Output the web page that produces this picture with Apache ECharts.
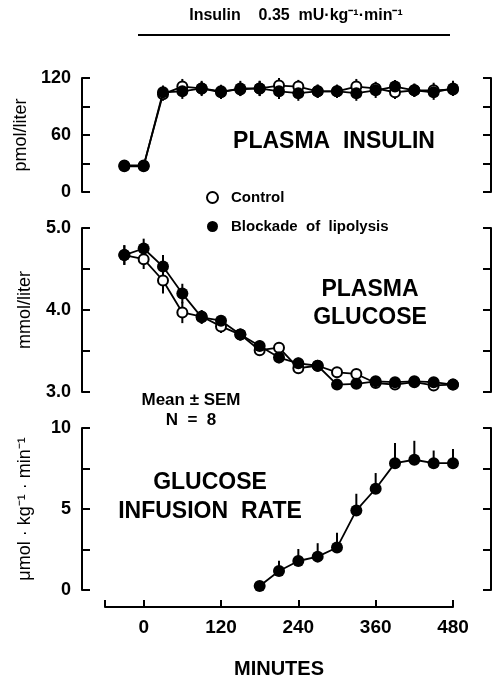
<!DOCTYPE html>
<html>
<head>
<meta charset="utf-8">
<script src="https://cdn.jsdelivr.net/npm/echarts@6.0.0/dist/echarts.min.js"></script>
<style>
  html, body { margin: 0; padding: 0; background: #fff; }
  #main { width: 493px; height: 680px; }
</style>
</head>
<body>
<div id="main"></div>
<script>
// sampling times (min)
const times = [-30, 0, 30, 60, 90, 120, 150, 180, 210, 240, 270, 300, 330, 360, 390, 420, 450, 480];

// plasma insulin, pmol/liter
const insulinControl = [28, 28, 103, 111, 109, 106, 108, 109, 112, 111, 106, 106, 111, 109, 105, 107, 107, 108];
const insulinBlockade = [27, 27, 105, 106, 109, 105, 109, 109, 106, 104, 106, 106, 104, 107, 111, 107, 105, 109];
const insulinSemControl = [5, 5, 7, 8, 7, 7, 7, 8, 8, 7, 7, 7, 8, 7, 7, 7, 8, 7];
const insulinSemBlockade = [5, 5, 7, 8, 8, 7, 8, 8, 8, 8, 7, 7, 8, 8, 7, 7, 8, 8];

// plasma glucose, mmol/liter
const glucoseControl = [4.67, 4.62, 4.36, 3.97, 3.92, 3.80, 3.70, 3.51, 3.54, 3.29, 3.32, 3.24, 3.22, 3.11, 3.09, 3.12, 3.08, 3.09];
const glucoseBlockade = [4.67, 4.75, 4.53, 4.20, 3.91, 3.87, 3.70, 3.56, 3.42, 3.35, 3.32, 3.09, 3.10, 3.13, 3.12, 3.13, 3.12, 3.09];
const glucoseSemControl = [0.12, 0.12, 0.16, 0.13, 0.08, 0.08, 0.07, 0.07, 0.07, 0.07, 0.07, 0.06, 0.06, 0.06, 0.06, 0.05, 0.05, 0.05];
const glucoseSemBlockade = [0.12, 0.12, 0.14, 0.12, 0.08, 0.07, 0.07, 0.07, 0.07, 0.07, 0.06, 0.05, 0.06, 0.06, 0.05, 0.05, 0.05, 0.05];

// glucose infusion rate, umol/kg/min (blockade only)
const girTimes = [180, 210, 240, 270, 300, 330, 360, 390, 420, 450, 480];
const girValues = [0.25, 1.17, 1.79, 2.06, 2.62, 4.91, 6.25, 7.83, 8.04, 7.83, 7.83];
const girSem = [0.3, 0.64, 0.74, 0.83, 0.92, 1.03, 0.97, 1.24, 1.17, 0.78, 0.87];

const xTicks = [-60, 0, 120, 240, 360, 480];
const xLabels = [0, 120, 240, 360, 480];

const FONT = '"Liberation Sans", Arial, Helvetica, sans-serif';

// layout
const panelLeft = 82, panelRight = 2, chartW = 493;
const axisLeft = 105, axisWidth = 348; // visible minutes axis: -60 .. 480
const pxPerMin = axisWidth / 540;
const panelW = chartW - panelLeft - panelRight;
const xMin = -60 - (axisLeft - panelLeft) / pxPerMin;
const xMax = xMin + panelW / pxPerMin;

const panels = [
  { top: 78, height: 114, min: 0, max: 120, step: 30, every: 60, fmt: v => String(v), name: 'pmol/liter' },
  { top: 228, height: 164, min: 3, max: 5, step: 0.5, every: 1, fmt: v => v.toFixed(1), name: 'mmol/liter' },
  { top: 428, height: 162, min: 0, max: 10, step: 2.5, every: 5, fmt: v => String(v), name: 'μmol · kg⁻¹ · min⁻¹' }
];

const grids = panels.map(p => ({ left: panelLeft, right: panelRight, top: p.top, height: p.height }));
grids.push({ left: axisLeft, width: axisWidth, top: 602, height: 11 });

const xAxes = panels.map((p, i) => ({
  type: 'value', gridIndex: i, min: xMin, max: xMax, show: false
}));
xAxes.push({
  type: 'value', gridIndex: 3, min: -60, max: 480, position: 'bottom',
  axisLine: { onZero: false, lineStyle: { color: '#000', width: 2 } },
  axisTick: { inside: true, length: 7, lineStyle: { color: '#000', width: 2 }, customValues: xTicks },
  axisLabel: { color: '#000', fontFamily: FONT, fontWeight: 'bold', fontSize: 19, margin: 11, customValues: xLabels },
  splitLine: { show: false },
  name: 'MINUTES', nameLocation: 'middle', nameGap: 52,
  nameTextStyle: { color: '#000', fontFamily: FONT, fontWeight: 'bold', fontSize: 20 }
});

const yAxes = [];
panels.forEach((p, i) => {
  const common = {
    type: 'value', gridIndex: i, min: p.min, max: p.max, interval: p.step,
    axisLine: { show: true, onZero: false, lineStyle: { color: '#000', width: 2 } },
    axisTick: { show: true, inside: true, length: 8, lineStyle: { color: '#000', width: 2 } },
    splitLine: { show: false }
  };
  yAxes.push(Object.assign({}, common, {
    position: 'left',
    axisLabel: {
      color: '#000', fontFamily: FONT, fontWeight: 'bold', fontSize: 18, margin: 11,
      formatter: v => (Math.abs(v / p.every - Math.round(v / p.every)) < 1e-6 ? p.fmt(v) : '')
    },
    name: p.name, nameLocation: 'middle', nameGap: 48, nameRotate: 90,
    nameTextStyle: { color: '#000', fontFamily: FONT, fontSize: 18 }
  }));
  yAxes.push(Object.assign({}, common, {
    position: 'right',
    axisLabel: { show: false }
  }));
});
// hidden companion axis for the minutes grid
yAxes.push({ type: 'value', gridIndex: 3, min: 0, max: 1, show: false });

function errorBars(idx, xs, vals, sems, upOnly) {
  return {
    type: 'custom', xAxisIndex: idx, yAxisIndex: idx * 2, z: 1, silent: true,
    data: xs.map((t, i) => [t, vals[i], sems[i]]),
    encode: { x: 0, y: 1 },
    renderItem: (params, api) => {
      const x = api.value(0), y = api.value(1), s = api.value(2);
      const a = api.coord([x, upOnly ? y : y - s]);
      const b = api.coord([x, y + s]);
      return {
        type: 'line',
        shape: { x1: a[0], y1: a[1], x2: b[0], y2: b[1] },
        style: { stroke: '#000', lineWidth: 2 }
      };
    }
  };
}

const lineStyle = { color: '#000', width: 1.8 };
const openStyle = { color: '#fff', borderColor: '#000', borderWidth: 2 };
const filledStyle = { color: '#000', borderColor: '#000', borderWidth: 0 };

function lineSeries(name, idx, xs, vals, open) {
  return {
    name, type: 'line', xAxisIndex: idx, yAxisIndex: idx * 2, z: open ? 3 : 4,
    data: xs.map((t, i) => [t, vals[i]]),
    symbol: 'circle', symbolSize: open ? 10 : 12,
    lineStyle, itemStyle: open ? openStyle : filledStyle,
    emphasis: { disabled: true }, animation: false
  };
}

const series = [
  errorBars(0, times, insulinControl, insulinSemControl),
  errorBars(0, times, insulinBlockade, insulinSemBlockade),
  lineSeries('Control', 0, times, insulinControl, true),
  lineSeries('Blockade of lipolysis', 0, times, insulinBlockade, false),
  errorBars(1, times, glucoseControl, glucoseSemControl),
  errorBars(1, times, glucoseBlockade, glucoseSemBlockade),
  lineSeries('Control', 1, times, glucoseControl, true),
  lineSeries('Blockade of lipolysis', 1, times, glucoseBlockade, false),
  errorBars(2, girTimes, girValues, girSem, true),
  lineSeries('Blockade of lipolysis', 2, girTimes, girValues, false)
];

function label(text, x, y, size) {
  return {
    type: 'text', x, y, silent: true,
    style: {
      text, fill: '#000', font: 'bold ' + size + 'px ' + FONT,
      textAlign: 'center', textVerticalAlign: 'middle'
    }
  };
}

const chart = echarts.init(document.getElementById('main'), null, { renderer: 'canvas' });
chart.setOption({
  backgroundColor: '#fff',
  animation: false,
  grid: grids,
  xAxis: xAxes,
  yAxis: yAxes,
  series,
  legend: {
    orient: 'vertical', left: 206, top: 190, itemGap: 14, padding: 0,
    itemWidth: 11, itemHeight: 11, icon: 'circle',
    selectedMode: false,
    formatter: name => name.split(' ').join('  '),
    textStyle: { color: '#000', fontFamily: FONT, fontWeight: 'bold', fontSize: 15, padding: [0, 0, 0, 8] },
    data: [
      { name: 'Control', itemStyle: openStyle },
      { name: 'Blockade of lipolysis', itemStyle: filledStyle }
    ]
  },
  graphic: [
    label('Insulin    0.35  mU·kg⁻¹·min⁻¹', 296, 16, 16),
    { type: 'line', silent: true, shape: { x1: 138, y1: 35, x2: 450, y2: 35 }, style: { stroke: '#000', lineWidth: 2 } },
    label('PLASMA  INSULIN', 334, 142, 23),
    label('PLASMA', 370, 290, 23),
    label('GLUCOSE', 370, 318, 23),
    label('Mean ± SEM', 191, 400, 17),
    label('N  =  8', 191, 420, 17),
    label('GLUCOSE', 210, 483, 23),
    label('INFUSION  RATE', 210, 512, 23)
  ]
});
</script>
</body>
</html>
